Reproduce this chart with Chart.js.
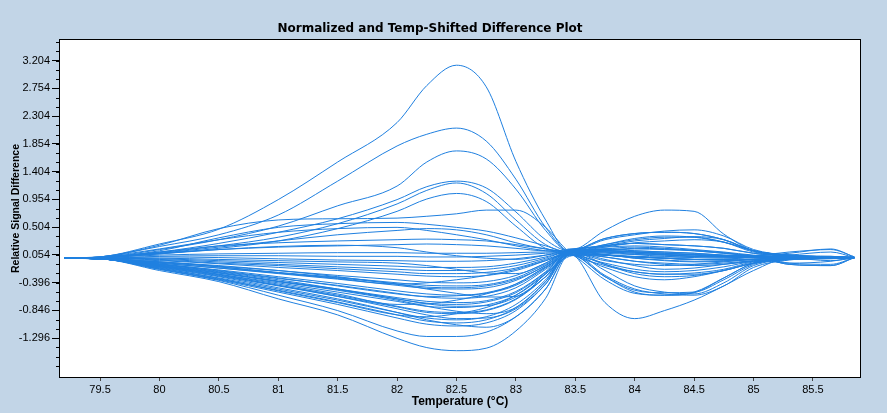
<!DOCTYPE html>
<html lang="en">
<head>
    <meta charset="UTF-8">
    <title>Normalized and Temp-Shifted Difference Plot</title>
    <script src="https://cdn.jsdelivr.net/npm/chart.js"></script>
    <style>
        body {
            margin: 0;
            background-color: #c2d5e7;
        }

        .chart-box {
            width: 887px;
            height: 413px;
            position: relative;
        }
    </style>
</head>
<body>

<div class="chart-box">
    <canvas id="diffChart"></canvas>
</div>

<script>
    const temps = [79.2, 79.5, 80, 80.5, 81, 81.5, 82, 82.25, 82.5, 82.75, 83, 83.25, 83.45, 83.75, 84, 84.25, 84.5, 84.75, 85, 85.3, 85.65, 85.85];

    const xTicks = [79.5, 80, 80.5, 81, 81.5, 82, 82.5, 83, 83.5, 84, 84.5, 85, 85.5];
    const yTicks = [-1.296, -0.846, -0.396, 0.054, 0.504, 0.954, 1.404, 1.854, 2.304, 2.754, 3.204];

    // curves that rise above the bundle
    const u01 = [0, 0.02, 0.23, 0.47, 0.95, 1.56, 2.2, 2.8, 3.13, 2.78, 1.57, 0.62, 0.1, 0.2, 0.24, 0.22, 0.2, 0.16, 0.08, 0.03, 0.02, 0.01];
    const u02 = [0, 0.02, 0.19, 0.38, 0.7, 1.25, 1.82, 2.01, 2.11, 1.9, 1.28, 0.5, 0.12, 0.32, 0.4, 0.42, 0.4, 0.3, 0.12, 0.05, 0.02, 0.01];
    const u03 = [0, 0.01, 0.14, 0.3, 0.52, 0.85, 1.17, 1.56, 1.74, 1.61, 1.12, 0.45, 0.11, 0.3, 0.38, 0.44, 0.46, 0.36, 0.14, 0.05, 0.03, 0.01];
    const u04 = [0, 0.01, 0.1, 0.24, 0.42, 0.64, 0.95, 1.16, 1.25, 1.14, 0.75, 0.3, 0.12, 0.45, 0.68, 0.78, 0.76, 0.39, 0.12, 0.04, 0.02, 0.01];
    const u05 = [0, 0.01, 0.09, 0.2, 0.34, 0.56, 0.88, 1.1, 1.22, 1.05, 0.62, 0.22, 0.1, 0.22, 0.3, 0.34, 0.34, 0.26, 0.1, 0.04, 0.02, 0.01];
    const u06 = [0, 0.01, 0.07, 0.16, 0.28, 0.48, 0.76, 0.96, 1.05, 0.92, 0.52, 0.16, 0.08, -0.35, -0.57, -0.6, -0.56, -0.32, -0.08, 0, 0.02, 0.01];
    const u07 = [0, 0.02, 0.21, 0.48, 0.62, 0.64, 0.65, 0.68, 0.72, 0.78, 0.78, 0.5, 0.1, -0.12, -0.22, -0.26, -0.26, -0.2, -0.08, -0.01, 0.01, 0.01];
    const u08 = [0, 0.01, 0.12, 0.33, 0.5, 0.56, 0.58, 0.55, 0.5, 0.44, 0.33, 0.2, 0.1, 0.12, 0.1, 0.08, 0.06, 0.04, 0.03, 0.02, 0.01, 0.01];
    const u09 = [0, 0.01, 0.08, 0.18, 0.28, 0.38, 0.45, 0.48, 0.46, 0.38, 0.25, 0.15, 0.1, 0.15, 0.12, 0.1, 0.08, 0.05, 0.04, 0.08, 0.15, 0.02];
    const u10 = [0, 0.02, 0.15, 0.3, 0.42, 0.48, 0.5, 0.45, 0.38, 0.3, 0.2, 0.12, 0.09, 0.05, 0.02, 0, -0.02, -0.02, 0.02, -0.1, -0.12, 0.01];

    // main bundle
    const b01 = [0, 0.02, 0.1, 0.2, 0.25, 0.28, 0.3, 0.31, 0.3, 0.28, 0.22, 0.15, 0.1, 0.12, 0.1, 0.08, 0.06, 0.04, 0.03, 0.02, 0.01, 0.01];
    const b02 = [0, 0.01, 0.08, 0.14, 0.18, 0.2, 0.22, 0.23, 0.22, 0.2, 0.16, 0.12, 0.12, 0.32, 0.4, 0.42, 0.4, 0.3, 0.12, 0.05, 0.02, 0.01];
    const b03 = [0, 0.01, 0.07, 0.14, 0.19, 0.21, 0.17, 0.1, 0.04, 0, -0.02, 0.05, 0.14, 0.2, 0.24, 0.22, 0.2, 0.16, 0.08, 0.03, 0.02, 0.01];
    const b04 = [0, 0.01, 0.05, 0.07, 0.08, 0.09, 0.09, 0.08, 0.08, 0.08, 0.09, 0.1, 0.1, 0.02, -0.05, -0.08, -0.1, -0.08, -0.04, -0.02, 0, 0.01];
    const b05 = [0, 0, 0.03, 0.04, 0.04, 0.03, 0.03, 0.02, 0.02, 0.03, 0.05, 0.08, 0.1, 0.18, 0.25, 0.28, 0.3, 0.26, 0.12, 0.04, 0.02, 0.01];
    const b06 = [0, 0, 0.02, 0.01, -0.01, -0.03, -0.04, -0.05, -0.05, -0.04, -0.01, 0.05, 0.09, 0.05, 0.02, 0, -0.02, -0.02, 0.02, -0.1, -0.12, 0.01];
    const b07 = [0, 0, 0, -0.02, -0.04, -0.06, -0.08, -0.12, -0.18, -0.24, -0.25, -0.08, 0.13, 0.14, 0.16, 0.15, 0.12, 0.08, 0.04, 0.02, 0.01, 0.01];
    const b08 = [0, 0, -0.01, -0.04, -0.07, -0.1, -0.13, -0.15, -0.15, -0.14, -0.08, 0.02, 0.1, 0.06, 0, -0.04, -0.06, -0.05, -0.02, 0, 0, 0.01];
    const b09 = [0, 0, -0.02, -0.06, -0.1, -0.14, -0.18, -0.2, -0.2, -0.18, -0.12, 0, 0.11, -0.1, -0.25, -0.3, -0.28, -0.2, -0.08, -0.02, 0, 0.01];
    const b10 = [0, 0, -0.03, -0.08, -0.12, -0.17, -0.22, -0.25, -0.25, -0.23, -0.16, -0.02, 0.1, 0.22, 0.32, 0.36, 0.34, 0.26, 0.12, 0.05, 0.02, 0.01];
    const b11 = [0, -0.01, -0.04, -0.09, -0.15, -0.2, -0.26, -0.29, -0.3, -0.28, -0.2, -0.04, 0.09, 0.1, 0.08, 0.06, 0.05, 0.04, 0.03, 0.01, 0, 0.01];
    const b12 = [0, -0.01, -0.06, -0.14, -0.24, -0.33, -0.42, -0.4, -0.35, -0.28, -0.18, -0.04, 0.06, 0.02, -0.05, -0.1, -0.12, -0.1, -0.05, -0.02, -0.01, 0.01];
    const b13 = [0, -0.01, -0.06, -0.13, -0.2, -0.28, -0.35, -0.39, -0.4, -0.38, -0.28, -0.08, 0.1, 0.12, 0.1, 0.08, 0.05, 0.03, 0.04, 0.1, 0.14, 0.02];
    const b14 = [0, -0.01, -0.07, -0.14, -0.23, -0.31, -0.4, -0.44, -0.45, -0.43, -0.32, -0.1, 0.07, -0.3, -0.55, -0.6, -0.55, -0.32, -0.08, 0, 0.02, 0.01];
    const b15 = [0, -0.01, -0.08, -0.16, -0.25, -0.34, -0.44, -0.49, -0.5, -0.48, -0.36, -0.12, 0.09, 0.15, 0.12, 0.1, 0.08, 0.05, 0.03, 0.01, 0, 0.01];
    const b16 = [0, -0.01, -0.08, -0.16, -0.24, -0.32, -0.42, -0.5, -0.57, -0.63, -0.62, -0.25, 0.15, 0.05, 0.02, 0, -0.02, -0.03, -0.02, -0.08, -0.05, 0.01];
    const b17 = [0, -0.01, -0.1, -0.19, -0.3, -0.41, -0.53, -0.58, -0.6, -0.57, -0.44, -0.16, 0.1, -0.2, -0.45, -0.55, -0.58, -0.4, -0.12, -0.02, 0, 0.01];
    const b18 = [0, -0.01, -0.1, -0.21, -0.33, -0.44, -0.57, -0.63, -0.65, -0.62, -0.48, -0.18, 0.08, 0.12, 0.15, 0.14, 0.12, 0.08, 0.04, 0.02, 0.01, 0.01];
    const b19 = [0, -0.01, -0.12, -0.26, -0.42, -0.58, -0.75, -0.74, -0.68, -0.58, -0.42, -0.15, 0.04, 0.05, 0, -0.03, -0.05, -0.04, -0.02, 0, 0, 0.01];
    const b20 = [0, -0.01, -0.12, -0.24, -0.38, -0.51, -0.66, -0.73, -0.75, -0.71, -0.56, -0.23, 0.07, -0.1, -0.22, -0.26, -0.24, -0.18, -0.06, -0.01, 0.01, 0.01];
    const b21 = [0, -0.01, -0.13, -0.26, -0.4, -0.55, -0.7, -0.78, -0.8, -0.76, -0.6, -0.26, 0.09, 0.2, 0.28, 0.32, 0.35, 0.3, 0.12, 0.05, 0.02, 0.01];
    const b22 = [0, -0.01, -0.12, -0.24, -0.38, -0.52, -0.68, -0.78, -0.86, -0.9, -0.8, -0.38, 0.12, 0.08, 0.06, 0.05, 0.03, 0.02, 0.02, -0.08, -0.1, 0.01];
    const b23 = [0, -0.01, -0.14, -0.29, -0.45, -0.62, -0.79, -0.88, -0.9, -0.85, -0.67, -0.3, 0.1, -0.28, -0.5, -0.58, -0.6, -0.45, -0.15, -0.03, 0.01, 0.01];
    const b24 = [0, -0.01, -0.16, -0.33, -0.53, -0.72, -0.92, -0.95, -0.9, -0.8, -0.6, -0.25, 0.03, 0.1, 0.08, 0.05, 0.03, 0.02, 0.01, 0, 0, 0.01];
    const b25 = [0, -0.01, -0.16, -0.32, -0.5, -0.68, -0.88, -0.97, -1.0, -0.95, -0.75, -0.35, 0.1, -0.02, -0.12, -0.18, -0.16, -0.1, -0.04, -0.01, 0, 0.01];
    const b26 = [0, -0.01, -0.17, -0.34, -0.52, -0.71, -0.92, -1.02, -1.05, -1.0, -0.8, -0.38, 0.08, -0.72, -0.98, -0.85, -0.68, -0.45, -0.2, 0, -0.04, 0.01];
    const b27 = [0, -0.01, -0.18, -0.35, -0.55, -0.75, -0.97, -1.07, -1.1, -1.05, -0.85, -0.42, 0.1, 0.12, 0.1, 0.06, 0.03, 0.02, 0.01, 0.05, 0.1, 0.01];
    const b28 = [0, -0.01, -0.15, -0.3, -0.48, -0.66, -0.88, -1.0, -1.08, -1.12, -0.95, -0.5, 0.06, -0.3, -0.52, -0.56, -0.55, -0.35, -0.1, -0.01, 0.01, 0.01];
    const b29 = [0, -0.01, -0.18, -0.36, -0.6, -0.85, -1.18, -1.27, -1.27, -1.2, -0.95, -0.5, 0.07, 0.05, 0.02, 0, -0.02, -0.02, -0.01, 0, 0, 0.01];
    const b30 = [0, -0.01, -0.2, -0.38, -0.66, -0.92, -1.3, -1.45, -1.5, -1.46, -1.18, -0.65, 0.05, -0.15, -0.3, -0.35, -0.3, -0.2, -0.08, -0.02, 0, 0.01];
    const b31 = [0, -0.01, -0.06, -0.12, -0.2, -0.3, -0.42, -0.47, -0.48, -0.45, -0.34, -0.12, 0.14, 0.18, 0.2, 0.18, 0.14, 0.1, 0.05, 0.02, 0.01, 0.01];
    const b32 = [0, -0.01, -0.09, -0.2, -0.32, -0.45, -0.58, -0.62, -0.61, -0.56, -0.42, -0.14, 0.05, -0.08, -0.18, -0.22, -0.2, -0.14, -0.05, -0.01, 0, 0.01];
    const b33 = [0, -0.01, -0.1, -0.22, -0.35, -0.5, -0.66, -0.74, -0.78, -0.77, -0.63, -0.3, 0.11, 0.06, 0.03, 0.02, 0.01, 0, 0.01, 0.02, 0.03, 0.01];
    const b34 = [0, -0.01, -0.14, -0.28, -0.44, -0.6, -0.78, -0.86, -0.88, -0.84, -0.66, -0.3, 0.06, 0.15, 0.18, 0.16, 0.13, 0.09, 0.04, 0.02, 0.01, 0.01];
    const b35 = [0, -0.01, -0.13, -0.27, -0.44, -0.62, -0.82, -0.92, -0.98, -0.97, -0.82, -0.42, 0.09, -0.04, -0.1, -0.12, -0.1, -0.06, -0.02, 0, 0, 0.01];
    const b36 = [0, -0.01, -0.11, -0.23, -0.37, -0.5, -0.64, -0.7, -0.72, -0.69, -0.54, -0.22, 0.13, 0.1, 0.06, 0.03, 0.02, 0.02, 0.01, 0, 0, 0.01];

    const wells = [u01, u02, u03, u04, u05, u06, u07, u08, u09, u10,
        b01, b02, b03, b04, b05, b06, b07, b08, b09, b10,
        b11, b12, b13, b14, b15, b16, b17, b18, b19, b20,
        b21, b22, b23, b24, b25, b26, b27, b28, b29, b30,
        b31, b32, b33, b34, b35, b36];

    const lineColor = '#1f80e0';
    const bgColor = '#c2d5e7';

    // blue page, white plot box with black frame, small minor ticks on y
    const plotFrame = {
        id: 'plotFrame',
        beforeDraw(chart) {
            const { ctx, chartArea: a } = chart;
            ctx.save();
            ctx.fillStyle = bgColor;
            ctx.fillRect(0, 0, chart.width, chart.height);
            ctx.fillStyle = '#fff';
            ctx.fillRect(a.left, a.top, a.right - a.left, a.bottom - a.top);
            ctx.restore();
        },
        afterDraw(chart) {
            const { ctx, chartArea: a } = chart;
            const y = chart.scales.y;
            ctx.save();
            ctx.strokeStyle = '#000';
            ctx.lineWidth = 1;
            ctx.strokeRect(a.left - 0.5, a.top - 0.5, a.right - a.left + 1, a.bottom - a.top + 1);
            ctx.beginPath();
            for (let v = yTicks[0] - 0.45; v <= y.max; v += 0.15) {
                const py = Math.round(y.getPixelForValue(v)) + 0.5;
                if (py < a.top || py > a.bottom) continue;
                ctx.moveTo(a.left - 4, py);
                ctx.lineTo(a.left, py);
            }
            ctx.stroke();
            ctx.restore();
        }
    };

    const tickFont = { family: "'Liberation Sans', Arial, sans-serif", size: 11 };

    new Chart(document.getElementById('diffChart'), {
        type: 'line',
        data: {
            datasets: wells.map((w, i) => ({
                label: 'Well ' + (i + 1),
                data: temps.map((t, k) => ({ x: t, y: w[k] })),
                borderColor: lineColor,
                borderWidth: 1,
                pointRadius: 0,
                fill: false,
                cubicInterpolationMode: 'monotone'
            }))
        },
        options: {
            responsive: true,
            maintainAspectRatio: false,
            animation: false,
            layout: { padding: { right: 27 } },
            plugins: {
                legend: { display: false },
                tooltip: { enabled: false },
                title: {
                    display: true,
                    text: 'Normalized and Temp-Shifted Difference Plot',
                    color: '#000',
                    font: { family: "'DejaVu Sans', sans-serif", size: 12, weight: 'bold' },
                    padding: { top: 22, bottom: 3.6 }
                }
            },
            scales: {
                x: {
                    type: 'linear',
                    min: 79.163,
                    max: 85.896,
                    afterBuildTicks: s => { s.ticks = xTicks.map(v => ({ value: v })); },
                    afterFit: s => { s.height = 36; },
                    border: { display: false },
                    grid: { drawOnChartArea: false, tickLength: 4, tickColor: '#444' },
                    ticks: {
                        color: '#000',
                        font: tickFont,
                        padding: 2,
                        maxRotation: 0,
                        autoSkip: false,
                        callback: v => String(v)
                    },
                    title: {
                        display: true,
                        text: 'Temperature (°C)',
                        color: '#000',
                        font: { family: "'Liberation Sans', Arial, sans-serif", size: 12, weight: 'bold' },
                        padding: { top: 0, bottom: 4 }
                    }
                },
                y: {
                    min: -1.927,
                    max: 3.539,
                    afterBuildTicks: s => { s.ticks = yTicks.map(v => ({ value: v })); },
                    afterFit: s => { s.width = 60; },
                    border: { display: false },
                    grid: { drawOnChartArea: false, tickLength: 8, tickColor: '#000' },
                    ticks: {
                        color: '#000',
                        font: tickFont,
                        padding: 2,
                        autoSkip: false,
                        callback: v => v.toFixed(3)
                    },
                    title: {
                        display: true,
                        text: 'Relative Signal Difference',
                        color: '#000',
                        font: { family: "'Liberation Sans', Arial, sans-serif", size: 10.5, weight: 'bold' },
                        padding: { top: 10, bottom: 0 }
                    }
                }
            }
        },
        plugins: [plotFrame]
    });
</script>

</body>
</html>
